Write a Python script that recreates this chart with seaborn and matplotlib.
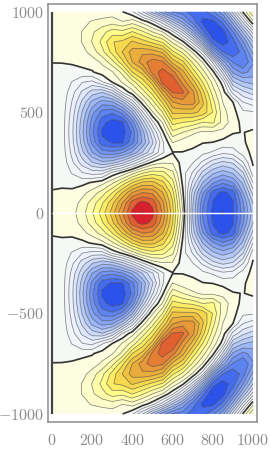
import numpy as np
import matplotlib
matplotlib.use("Agg")
import matplotlib.pyplot as plt
import seaborn as sns

# field, one list per x column, y = 0, 50, ... 1000
# (the plot is a mirror image around y = 0)
X_VALUES = list(range(0, 1001, 50))
Y_VALUES = list(range(0, 1001, 50))

C0 = [.01, .01, .004, -.01, -.01, -.01, -.01, -.01, -.01, -.01, -.01, -.01, -.01, -.01, -.01, .001, .01, .01, .01, .01, .01]
C50 = [.2, .15, .05, -.06, -.18, -.27, -.34, -.39, -.4, -.38, -.35, -.3, -.23, -.16, -.04, .005, .02, .04, .05, .04, .02]
C100 = [.6, .47, .2, -.3, -1.0, -1.62, -2.1, -2.4, -2.5, -2.42, -2.2, -1.88, -1.47, -.96, -.2, .07, .18, .37, .39, .28, .12]
C150 = [1.45, 1.19, .61, -.25, -1.8, -3.17, -4.26, -4.97, -5.2, -5.05, -4.6, -3.85, -2.9, -1.77, -.25, .3, .56, .96, .94, .63, .25]
C200 = [2.65, 2.23, 1.3, .1, -2.24, -4.5, -6.36, -7.56, -8, -7.76, -6.96, -5.76, -4.08, -2.08, -.08, .42, 1.33, 1.88, 1.67, 1, .3]
C250 = [4.1, 3.53, 2.26, .57, -2.2, -5.2, -7.7, -9.7, -10.2, -9.7, -8.6, -6.8, -4.5, -1.0, .4, 1.1, 2.46, 3, 2.4, 1.26, .24]
C300 = [5.9, 5.2, 3.66, 1.6, -.7, -4.9, -7.96, -10.1, -10.9, -10.45, -8.94, -6.54, -3.38, .02, .83, 2.4, 4, 4.5, 3.2, 1.4, .4]
C350 = [8.15, 7.3, 5.54, 3, .15, -3.9, -7.35, -10.15, -10.5, -10.2, -7.9, -4.9, -.9, 1.0, 2.1, 4.3, 5.5, 4.8, 3, .95, .02]
C400 = [10.2, 9.6, 7.35, 4.6, 1.33, -2.5, -6.2, -8.5, -8.9, -7.8, -5.5, -2.35, .55, 2.2, 4.6, 6.4, 6.8, 5.6, 3.7, 1.4, -.8]
C450 = [11, 10.35, 8.25, 5.7, 2.55, -1, -4.5, -6.2, -5.9, -4.4, -2, .45, 2.2, 4, 5.8, 7.8, 7.1, 5, 2.9, .55, -2.7]
C500 = [10.25, 9.8, 8, 5.75, 3.2, .25, -2.8, -3.8, -2.9, -1.2, .8, 2.3, 4.1, 5.9, 8.6, 8.7, 6.9, 4.3, 1.8, -.5, -5]
C550 = [8.05, 7.55, 6.45, 4.85, 3, .8, -1.05, -1.1, -.2, 1, 2.73, 4.7, 6.7, 9.5, 9.5, 8.4, 6.2, 3.5, .9, -2.3, -7]
C600 = [4.85, 4.6, 4, 3.05, 2, .8, -.05, .95, 2.45, 4, 5.7, 7.2, 9.2, 10, 8.6, 6.1, 3.9, 1.6, -.7, -4.6, -8.3]
C650 = [1, .65, .2, -.2, -.5, -.45, -.03, .4, 1.82, 3.64, 5.7, 7.8, 9.3, 7.9, 6.7, 4.8, 2.5, .25, -3, -6.6, -8.7]
C700 = [-4.6, -4.45, -4.05, -2.9, -1.9, -.87, -.14, .2, 1.1, 3.4, 5.7, 7.8, 7.55, 6, 4.2, 2.55, .75, -2.2, -6, -8.6, -9.6]
C750 = [-8.3, -8.05, -7.2, -5.5, -3.9, -2.05, -.65, .05, .7, 2.7, 5.2, 5.6, 4.9, 3.6, 2.2, .8, -1.5, -5.8, -8.9, -10.3, -9.5]
C800 = [-10.2, -10.1, -9.6, -7.15, -5.2, -3.3, -1.05, -.02, .7, 2.9, 3.6, 3.1, 2.3, 1.5, .3, -2, -6.5, -9.6, -10.95, -10.3, -8.4]
C850 = [-11, -10.7, -10.3, -8.05, -5.9, -3.9, -1.6, -.3, .6, 1.5, 1.25, .9, .45, -.45, -3, -6, -9.1, -10.5, -10.4, -8.9, -6.6]
C900 = [-10.2, -10.1, -9.7, -7.3, -5.3, -3.5, -1.4, -.35, .05, .4, .35, .01, -2.15, -4.4, -6.6, -8.3, -9.85, -9.6, -8.3, -6, -3.2]
C950 = [-7.7, -7.4, -6.4, -5.2, -3.7, -1.9, -.5, -.1, -.02, -.25, -.7, -1.8, -3.4, -5.4, -7.6, -9.1, -8.7, -7.4, -5.3, -2.5, .15]
C1000 = [-5, -4.5, -3.3, -1.8, -.3, .15, .3, .3, .12, -.3, -.8, -2.3, -4.1, -5.8, -6.9, -7.4, -6.1, -4.55, -2.3, .7, 2.8]

COLUMNS = [C0, C50, C100, C150, C200, C250, C300, C350, C400, C450, C500,
           C550, C600, C650, C700, C750, C800, C850, C900, C950, C1000]

X_TICKS = [0, 200, 400, 600, 800, 1000]
Y_TICKS = [-1000, -500, 0, 500, 1000]

NEG_COLORS = ["#f5f8f4", "#eef2fe", "#d4e0fb", "#a9c0f7", "#7f9ff3", "#5a80f0", "#2c52ec"]
POS_COLORS = ["#fdfde2", "#fdfdc0", "#fffe8c", "#fbe85a", "#f2c843", "#e9a93a", "#e58c36", "#e0602f"]
TOP_COLOR = "#d6202e"

STEP = 0.91
N_NEG = 12
N_POS = 11

sns.set_style("white")
plt.rcParams["mathtext.fontset"] = "cm"

upper = np.array(COLUMNS).T
z = np.vstack([upper[:0:-1], upper])
y = np.array([-v for v in Y_VALUES[:0:-1]] + Y_VALUES)
x = np.array(X_VALUES)

levels = STEP * np.arange(-N_NEG, N_POS + 2)
neg = sns.blend_palette(NEG_COLORS[::-1], N_NEG)
pos = sns.blend_palette(POS_COLORS, N_POS)
band_colors = list(neg) + list(pos) + [TOP_COLOR]

fig = plt.figure(figsize=(2.7, 4.5), dpi=100)
ax = fig.add_axes([47.7 / 270, 28 / 450, 209.6 / 270, 418.5 / 450])

ax.contourf(x, y, z, levels=levels, colors=band_colors, extend="both", antialiased=True)
lines = levels[np.abs(levels) > 0.01]
ax.contour(x, y, z, levels=lines, colors="#222222", linewidths=0.55, alpha=0.55, linestyles="solid")
ax.contour(x, y, z, levels=[0], colors="#333333", linewidths=1.2, linestyles="solid")

ax.plot([0, 0], [-1000, 1000], color="#444444", lw=1.6, solid_capstyle="butt")
ax.plot([0, 1000], [0, 0], color="white", lw=1.0, solid_capstyle="butt")

ax.set_xlim(-21, 1021)
ax.set_ylim(-1040, 1041)
ax.set_xticks(X_TICKS)
ax.set_yticks(Y_TICKS)
ax.set_xticklabels([f"${v}$" for v in X_TICKS])
ax.set_yticklabels([f"${v}$" for v in Y_TICKS])
ax.tick_params(axis="x", length=0, pad=8, labelsize=11.5, labelcolor="#8a8a8a")
ax.tick_params(axis="y", length=0, pad=2.5, labelsize=11.5, labelcolor="#8a8a8a")
for spine in ax.spines.values():
    spine.set_color("#8c8c8c")
    spine.set_linewidth(1.1)

fig.savefig("out.png", dpi=100)
